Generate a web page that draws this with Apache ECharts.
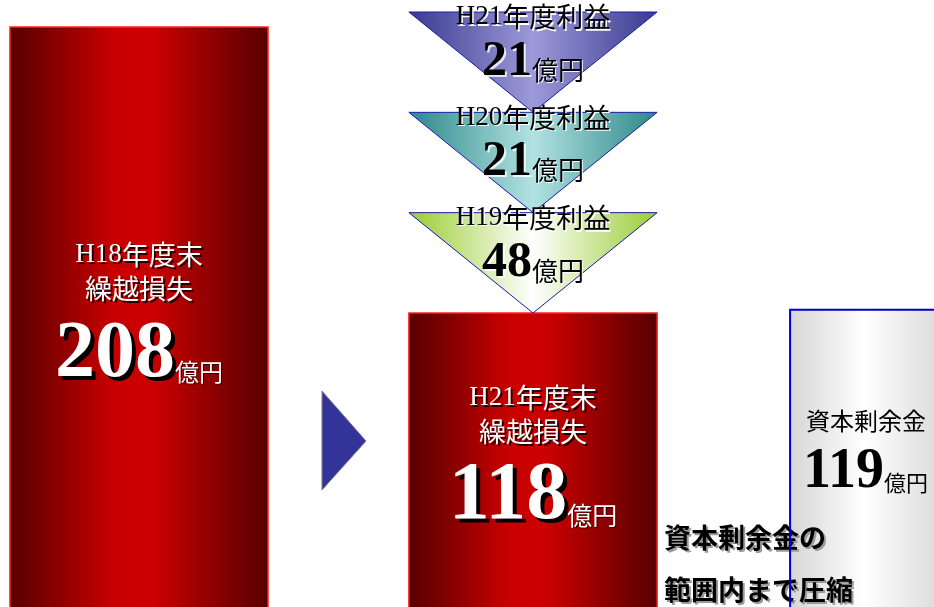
<!DOCTYPE html>
<html><head><meta charset="utf-8">
<script src="https://cdn.jsdelivr.net/npm/echarts@6/dist/echarts.min.js"></script>
<style>html,body{margin:0;padding:0;background:#fff}#c{width:934px;height:607px}</style>
</head><body><div id="c"></div>
<script>
// ---- data ----
const categories = ['H18年度末', 'H21年度末', '資本剰余金'];
const barValues = [208, 118, 119];
const barTitles = ['H18年度末\n繰越損失', 'H21年度末\n繰越損失', '資本剰余金'];
const profitYears = ['H19', 'H20', 'H21'];
const profitTitles = ['H19年度利益', 'H20年度利益', 'H21年度利益'];
const profitValues = [48, 21, 21];
const unitLabel = '億円';
const noteLines = ['資本剰余金の', '範囲内まで圧縮'];

// ---- styles ----
const SERIF = '"Liberation Serif","Times New Roman",serif';
const SANS = '"Noto Sans CJK JP","Noto Sans",sans-serif';
const barWidthFrac = [0.655, 0.63, 0.695];
const redStops = [[0, '#560000'], [0.4, '#c80000'], [0.55, '#cc0000'], [1, '#560000']];
const grayStops = [[0, '#d6d6d6'], [0.27, '#ffffff'], [0.52, '#dfdfdf'], [1, '#cccccc']];
const triStops = [
  [[0, '#99cc33'], [0.5, '#ffffff'], [1, '#99cc33']],
  [[0, '#2c8888'], [0.5, '#b2e2e2'], [1, '#2c8888']],
  [[0, '#393990'], [0.5, '#9c9ad8'], [1, '#393990']]
];
function grad(stops) {
  return new echarts.graphic.LinearGradient(0, 0, 1, 0, stops.map(s => ({offset: s[0], color: s[1]})));
}
function titleText(str) {
  return str.split('\n').map(line => {
    const m = line.match(/^(H\d+)?(.*)$/);
    return (m[1] ? '{s|' + m[1] + '}' : '') + (m[2] ? '{k|' + m[2] + '}' : '');
  }).join('\n');
}
function titleRich(size, color, shadow, sx, sy) {
  const base = {fontSize: size, fill: color, textShadowColor: shadow, textShadowOffsetX: sx, textShadowOffsetY: sy, textShadowBlur: 0.01};
  return {
    s: Object.assign({}, base, {fontFamily: SERIF}),
    k: Object.assign({}, base, {fontFamily: SANS})
  };
}
function numberRich(n, u, pad, color, shadow, sx, sy, ushadow) {
  return {
    n: {fontFamily: SERIF, fontWeight: 'bold', fontSize: n, lineHeight: n, verticalAlign: 'bottom', fill: color,
        textShadowColor: shadow, textShadowOffsetX: sx, textShadowOffsetY: sy, textShadowBlur: 0.01},
    u: {fontFamily: SANS, fontSize: u, verticalAlign: 'bottom', padding: [0, 0, pad, 0], fill: color,
        textShadowColor: ushadow, textShadowOffsetX: 1, textShadowOffsetY: 1, textShadowBlur: 0.01}
  };
}

function renderBar(params, api) {
  const i = api.value(0), v = api.value(1);
  const top = api.coord([i, v]), base = api.coord([i, 0]);
  const w = api.size([1, 0])[0] * barWidthFrac[i];
  const x = top[0] - w / 2, y = top[1], h = base[1] - top[1];
  const H = api.getHeight();
  const yc = (y + H) / 2;
  const cx = top[0];
  const children = [];
  if (i < 2) {
    children.push({type: 'rect', shape: {x: x, y: y, width: w, height: h},
      style: {fill: grad(redStops), stroke: '#ff2222', lineWidth: 1.5}});
    children.push({type: 'text', x: cx, y: yc - 45, z2: 10,
      style: {text: titleText(barTitles[i]), align: 'center', verticalAlign: 'middle', lineHeight: 34,
        rich: titleRich(27, '#ffffff', '#2a0000', 2, 2)}});
    children.push({type: 'text', x: cx, y: yc + 78, z2: 10,
      style: {text: '{n|' + barValues[i] + '}{u|' + unitLabel + '}', align: 'center', verticalAlign: 'bottom',
        rich: i === 0 ? numberRich(80, 24, 11, '#ffffff', '#000000', 4, 4, '#300000')
                      : numberRich(82, 25, 10, '#ffffff', '#000000', 4, 4, '#300000')}});
  } else {
    children.push({type: 'rect', shape: {x: x, y: y, width: w, height: h},
      style: {fill: grad(grayStops)}});
    // note text beside the middle bar
    const mid = api.coord([1, 0])[0] + api.size([1, 0])[0] * barWidthFrac[1] / 2;
    children.push({type: 'text', x: mid + 7, y: H - 43, z2: 3,
      style: {text: noteLines.join('\n'), align: 'left', verticalAlign: 'middle', lineHeight: 52,
        fontFamily: SANS, fontWeight: 'bold', fontSize: 27, fill: '#000000',
        textShadowColor: '#9a9a9a', textShadowOffsetX: 2, textShadowOffsetY: 2, textShadowBlur: 0.01}});
    children.push({type: 'polyline', z2: 5, shape: {points: [[x, base[1]], [x, y], [x + w, y]]},
      style: {stroke: '#0000cc', lineWidth: 2, fill: null}});
    children.push({type: 'text', x: x + 16, y: yc - 37.5, z2: 10,
      style: {text: barTitles[i], align: 'left', verticalAlign: 'middle', fontFamily: SANS, fontSize: 24, fill: '#000'}});
    children.push({type: 'text', x: x + 13, y: yc + 42, z2: 10,
      style: {text: '{n|' + barValues[i] + '}{u|' + unitLabel + '}', align: 'left', verticalAlign: 'bottom',
        rich: numberRich(56, 22, 7, '#000000', 'rgba(0,0,0,0)', 0, 0, 'rgba(0,0,0,0)')}});
  }
  return {type: 'group', children: children};
}

function renderTri(params, api) {
  const idx = params.dataIndex;
  const c = api.coord([api.value(0), api.value(1)]);
  const bh = api.size([0, 1])[1];
  const w = api.size([1, 0])[0] * barWidthFrac[1];
  const cx = c[0], yTop = c[1] - bh / 2, yApex = c[1] + bh / 2;
  return {type: 'group', children: [
    {type: 'polygon', z2: 1, shape: {points: [[cx - w / 2, yTop], [cx + w / 2, yTop], [cx, yApex]]},
      style: {fill: grad(triStops[idx]), stroke: '#1a1aa8', lineWidth: 1}},
    {type: 'text', x: cx, y: c[1] - 45, z2: 10,
      style: {text: titleText(profitTitles[idx]), align: 'center', verticalAlign: 'middle',
        rich: titleRich(27, '#000000', '#ffffff', 1.5, 1.5)}},
    {type: 'text', x: cx, y: c[1] + 25, z2: 10,
      style: {text: '{n|' + api.value(2) + '}{u|' + unitLabel + '}', align: 'center', verticalAlign: 'bottom',
        rich: numberRich(50, 26, 4, '#000000', 'rgba(255,255,255,0.8)', 2, 2, 'rgba(255,255,255,0.9)')}}
  ]};
}

function renderArrow(params, api) {
  const a = api.coord([0, 0])[0], b = api.coord([1, 0])[0];
  const mid = (a + b) / 2;
  const yc = (api.coord([1, api.value(1)])[1] + api.getHeight()) / 2 - 19;
  return {type: 'polygon', shape: {points: [[mid - 14, yc - 50], [mid - 14, yc + 49], [mid + 30, yc]]},
    style: {fill: '#333399', stroke: '#808080', lineWidth: 1}};
}

const chart = echarts.init(document.getElementById('c'), null, {renderer: 'canvas'});
chart.setOption({
  animation: false,
  backgroundColor: '#ffffff',
  grid: [
    {left: -58, width: 1182, top: 0, height: 607, outerBoundsMode: 'none', containLabel: false},
    {left: -58, width: 1182, top: 12, height: 301, outerBoundsMode: 'none', containLabel: false}
  ],
  xAxis: [
    {type: 'category', data: categories, gridIndex: 0, show: false},
    {type: 'category', data: categories, gridIndex: 1, show: false}
  ],
  yAxis: [
    {type: 'value', min: 25.5, max: 216.5, gridIndex: 0, show: false},
    {type: 'category', data: profitYears, gridIndex: 1, show: false}
  ],
  series: [
    {type: 'custom', xAxisIndex: 0, yAxisIndex: 0, z: 2, data: barValues.map((v, i) => [i, v]), renderItem: renderBar},
    {type: 'custom', xAxisIndex: 1, yAxisIndex: 1, z: 3, data: profitValues.map((v, i) => [1, i, v]), renderItem: renderTri},
    {type: 'custom', xAxisIndex: 0, yAxisIndex: 0, z: 2, data: [[1, barValues[1]]], renderItem: renderArrow}
  ]
});
</script>
</body></html>
